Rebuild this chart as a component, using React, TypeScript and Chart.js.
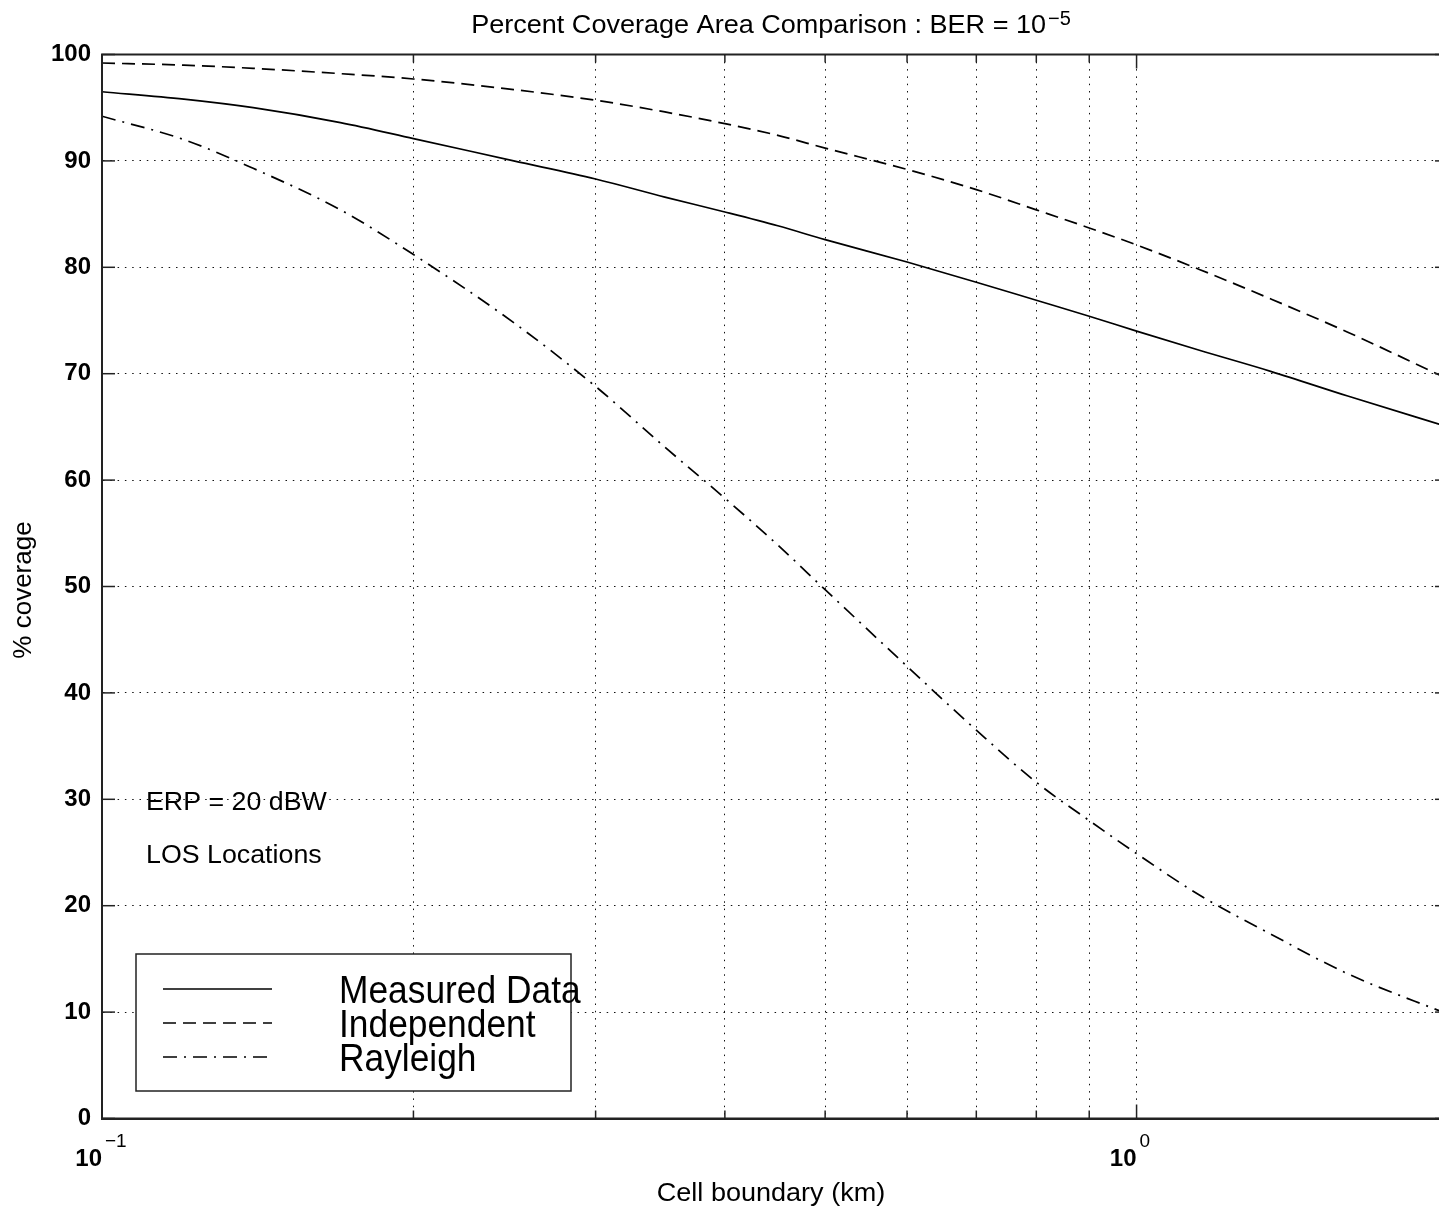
import React, { useEffect, useRef } from "react";
import { Chart, registerables } from "chart.js";

Chart.register(...registerables);

// ---- data ----
const cellBoundaryKm = [0.1, 0.12, 0.14, 0.17, 0.2, 0.25, 0.3, 0.35, 0.4, 0.45, 0.5, 0.6, 0.7, 0.8, 0.9, 1.0, 1.15, 1.35, 1.6, 2.0];
const measuredData = [96.5, 95.8, 95.0, 93.6, 92.1, 90.0, 88.3, 86.6, 85.2, 83.9, 82.6, 80.5, 78.6, 76.9, 75.4, 74.0, 72.2, 70.2, 67.9, 65.0];
const independent = [99.2, 99.0, 98.7, 98.2, 97.7, 96.7, 95.7, 94.6, 93.5, 92.4, 91.2, 89.2, 87.3, 85.4, 83.7, 82.1, 79.8, 77.0, 73.9, 69.5];
const rayleigh = [94.2, 92.0, 89.3, 85.4, 81.2, 74.8, 68.8, 63.1, 58.3, 53.9, 49.7, 42.5, 36.5, 31.6, 28.0, 24.9, 21.0, 17.3, 13.6, 9.8];

const seriesLabels = ["Measured Data", "Independent", "Rayleigh"];
const xTickValues = [0.1, 0.2, 0.3, 0.4, 0.5, 0.6, 0.7, 0.8, 0.9, 1, 2];
const xMajorValues = [0.1, 1];
const xMajorBase = ["10", "10"];
const xMajorExponent = ["\u22121", "0"];
const yMin = 0;
const yMax = 100;
const yStep = 10;
const titleText = "Percent Coverage Area Comparison : BER = 10";
const titleExponent = "\u22125";
const xAxisTitle = "Cell boundary (km)";
const yAxisTitle = "% coverage";
const annotations = ["ERP = 20 dBW", "LOS Locations"];

// ---- styles ----
const FONT = '"Liberation Sans", Arial, Helvetica, sans-serif';
const INK = "#000";
const AXIS = "#222";
const GRID = "#111";
const DASHES: number[][] = [[], [13, 7], [14, 7, 2, 7]];

function drawText(
  ctx: CanvasRenderingContext2D,
  s: string,
  x: number,
  y: number,
  font: string,
  align: "left" | "center" | "right" = "left",
  sx = 1
): number {
  ctx.save();
  ctx.font = font;
  ctx.textAlign = "left";
  ctx.textBaseline = "alphabetic";
  ctx.fillStyle = "#000";
  const w = ctx.measureText(s).width * sx;
  const x0 = align === "center" ? x - w / 2 : align === "right" ? x - w : x;
  ctx.translate(x0, y);
  ctx.scale(sx, 1);
  ctx.fillText(s, 0, 0);
  ctx.restore();
  return w;
}

function line(ctx: CanvasRenderingContext2D, x1: number, y1: number, x2: number, y2: number) {
  ctx.beginPath();
  ctx.moveTo(x1, y1);
  ctx.lineTo(x2, y2);
  ctx.stroke();
}

const decorPlugin = {
  id: "matlabDecor",
  afterDraw(chart: any) {
    const { ctx, chartArea: a, scales } = chart;
    const xs = scales.x;
    const ys = scales.y;
    ctx.save();

    // axes box
    ctx.strokeStyle = AXIS;
    ctx.lineWidth = 2;
    ctx.setLineDash([]);
    ctx.strokeRect(a.left, a.top, a.right - a.left, a.bottom - a.top);

    // inward ticks
    ctx.lineWidth = 1.5;
    for (let v = yMin; v <= yMax; v += yStep) {
      const y = ys.getPixelForValue(v);
      line(ctx, a.left, y, a.left + 13, y);
      line(ctx, a.right - 13, y, a.right, y);
    }
    xTickValues.forEach((v) => {
      const x = xs.getPixelForValue(v);
      const len = xMajorValues.includes(v) ? 14 : 8;
      line(ctx, x, a.bottom, x, a.bottom - len);
      line(ctx, x, a.top, x, a.top + len);
    });

    // x tick labels 10^n
    xMajorValues.forEach((v, i) => {
      const x = xs.getPixelForValue(v);
      drawText(ctx, xMajorBase[i], x, 1166, `bold 24px ${FONT}`, "right");
      drawText(ctx, xMajorExponent[i], x + 3, 1147, `19px ${FONT}`, "left");
    });

    // title with superscript
    ctx.font = `26px ${FONT}`;
    const tSx = 1.04;
    const w1 = ctx.measureText(titleText).width * tSx;
    ctx.font = `20px ${FONT}`;
    const w2 = ctx.measureText(titleExponent).width;
    const cx = 771;
    const start = cx - (w1 + 2 + w2) / 2;
    drawText(ctx, titleText, start, 33, `26px ${FONT}`, "left", tSx);
    drawText(ctx, titleExponent, start + w1 + 2, 25, `20px ${FONT}`, "left");

    // axis titles
    drawText(ctx, xAxisTitle, 771, 1201, `26px ${FONT}`, "center", 1.04);
    ctx.save();
    ctx.translate(31, 590);
    ctx.rotate(-Math.PI / 2);
    drawText(ctx, yAxisTitle, 0, 0, `26px ${FONT}`, "center", 1.0);
    ctx.restore();

    // annotations
    drawText(ctx, annotations[0], 146, 810, `26px ${FONT}`, "left", 1.03);
    drawText(ctx, annotations[1], 146, 863, `26px ${FONT}`, "left", 1.03);

    // legend box
    const bx = 136, by = 954, bw = 435, bh = 137;
    ctx.fillStyle = "#fff";
    ctx.fillRect(bx, by, bw, bh);
    ctx.strokeStyle = AXIS;
    ctx.lineWidth = 1.5;
    ctx.strokeRect(bx, by, bw, bh);
    chart.data.datasets.forEach((ds: any, i: number) => {
      const ly = 989 + i * 34;
      ctx.save();
      ctx.strokeStyle = INK;
      ctx.lineWidth = 1.7;
      ctx.setLineDash(ds.borderDash || []);
      line(ctx, 163, ly, 272, ly);
      ctx.restore();
      drawText(ctx, ds.label, 339, 1003 + i * 34, `38px ${FONT}`, "left", 0.93);
    });

    ctx.restore();
  },
};

export default function App() {
  const ref = useRef<HTMLCanvasElement>(null);

  useEffect(() => {
    if (!ref.current) return;
    const seriesValues = [measuredData, independent, rayleigh];
    const chart = new Chart(ref.current, {
      type: "line",
      data: {
        datasets: seriesValues.map((vals, i) => ({
          label: seriesLabels[i],
          data: cellBoundaryKm.map((x, j) => ({ x, y: vals[j] })),
          borderColor: INK,
          borderWidth: 1.7,
          borderDash: DASHES[i],
          pointRadius: 0,
          fill: false,
          cubicInterpolationMode: "monotone" as const,
        })),
      },
      options: {
        responsive: false,
        animation: false,
        devicePixelRatio: 1,
        layout: { padding: { top: 54.5, right: 2, bottom: 0, left: 0 } },
        plugins: {
          legend: { display: false },
          tooltip: { enabled: false },
          title: { display: false },
        },
        scales: {
          x: {
            type: "logarithmic",
            min: 0.1,
            max: 2,
            afterBuildTicks: (s: any) => {
              s.ticks = xTickValues.map((v) => ({ value: v }));
            },
            afterFit: (s: any) => {
              s.height = 92.5;
            },
            ticks: { display: false },
            grid: { display: true, color: GRID, lineWidth: 1, drawTicks: false },
            border: { display: true, color: AXIS, width: 2, dash: [1.5, 5.8] },
          },
          y: {
            type: "linear",
            min: yMin,
            max: yMax,
            afterFit: (s: any) => {
              s.width = 102;
            },
            ticks: {
              stepSize: yStep,
              color: "#000",
              padding: 11,
              font: { family: FONT, size: 24, weight: "bold" },
            },
            grid: { display: true, color: GRID, lineWidth: 1, drawTicks: false },
            border: { display: true, color: AXIS, width: 2, dash: [1.5, 5.8] },
          },
        },
      },
      plugins: [decorPlugin],
    } as any);
    return () => chart.destroy();
  }, []);

  return (
    <div
      style={{
        position: "fixed",
        left: 0,
        top: 0,
        width: 1439,
        height: 1211,
        overflow: "hidden",
        background: "#fff",
      }}
    >
      <canvas ref={ref} width={1450} height={1211} style={{ display: "block", width: 1450, height: 1211 }} />
    </div>
  );
}
